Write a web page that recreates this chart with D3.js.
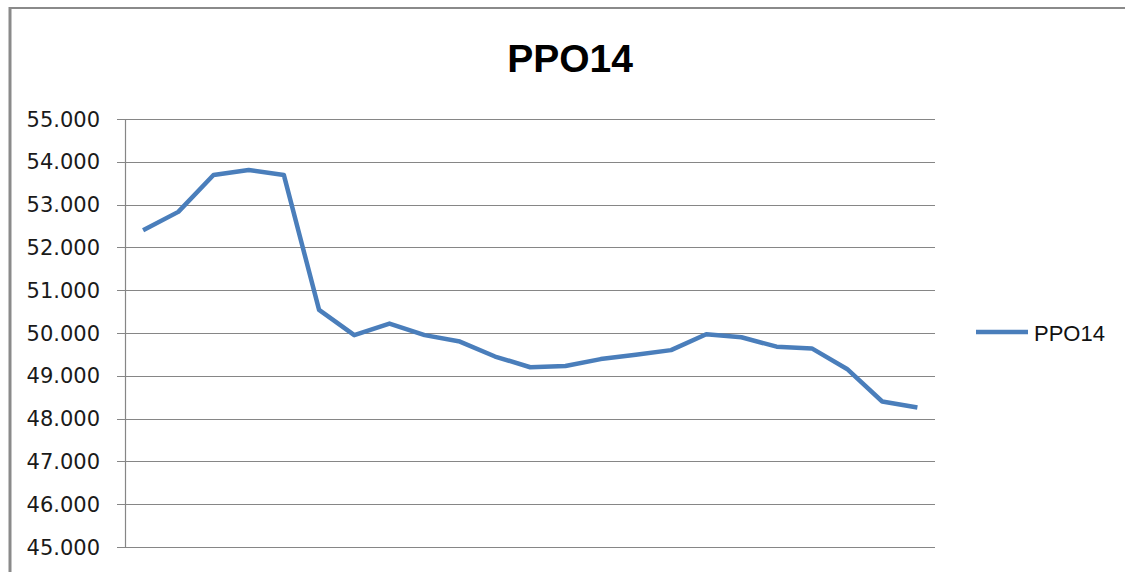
<!DOCTYPE html>
<html>
<head>
<meta charset="utf-8">
<script src="https://cdn.jsdelivr.net/npm/d3@7"></script>
<style>
  body { margin: 0; background: #fff; }
  svg { display: block; }
</style>
</head>
<body>
<svg width="1125" height="572"></svg>
<script>
// data
const seriesName = "PPO14";
const categories = d3.range(1, 24);
const values = [52.40, 52.83, 53.69, 53.81, 53.69, 50.54, 49.95, 50.22, 49.95, 49.80,
  49.45, 49.20, 49.23, 49.39, 49.49, 49.60, 49.97, 49.90, 49.68, 49.64, 49.16, 48.40, 48.26];
const yTicks = [45, 46, 47, 48, 49, 50, 51, 52, 53, 54, 55];

var svg = d3.select("svg"),
  width = 1125,
  height = 572;

// chart frame
svg.append("line").attr("x1", 10).attr("x2", width).attr("y1", 8).attr("y2", 8)
  .attr("stroke", "#8a8a8a").attr("stroke-width", 2);
svg.append("line").attr("x1", 10).attr("x2", 10).attr("y1", 7).attr("y2", height)
  .attr("stroke", "#8a8a8a").attr("stroke-width", 3);

// scales
var x = d3.scaleBand().domain(categories).range([125.5, 935]).padding(0);
var y = d3.scaleLinear().domain([45, 55]).range([547, 119]);

// gridlines
svg.append("g")
  .selectAll("line")
  .data(yTicks)
  .enter()
  .append("line")
    .attr("x1", 117).attr("x2", 935)
    .attr("y1", d => Math.round(y(d)) + 0.5)
    .attr("y2", d => Math.round(y(d)) + 0.5)
    .attr("stroke", "#868686")
    .attr("stroke-width", 1.2);

// y axis line
svg.append("line")
  .attr("x1", 125.5).attr("x2", 125.5)
  .attr("y1", y(55)).attr("y2", y(45) + 0.5)
  .attr("stroke", "#868686").attr("stroke-width", 1.2);

// tick labels
svg.append("g")
  .selectAll("text")
  .data(yTicks)
  .enter()
  .append("text")
    .attr("x", 100)
    .attr("y", d => y(d))
    .attr("dy", "0.36em")
    .attr("text-anchor", "end")
    .attr("font-family", "DejaVu Sans")
    .attr("font-size", 21)
    .attr("fill", "#1a1a1a")
    .text(d => d3.format(".3f")(d));

// the line
var line = d3.line()
  .x((d, i) => x(categories[i]) + x.bandwidth() / 2)
  .y(d => y(d));

svg.append("path")
  .datum(values)
  .attr("d", line)
  .attr("fill", "none")
  .attr("stroke", "#4a7ebb")
  .attr("stroke-width", 4.5)
  .attr("stroke-linejoin", "round");

// title
svg.append("text")
  .attr("x", 570)
  .attr("y", 72)
  .attr("text-anchor", "middle")
  .attr("font-family", "Liberation Sans")
  .attr("font-weight", "bold")
  .attr("font-size", 39)
  .attr("fill", "#000")
  .text(seriesName);

// legend
svg.append("line")
  .attr("x1", 976).attr("x2", 1028)
  .attr("y1", 332).attr("y2", 332)
  .attr("stroke", "#4a7ebb").attr("stroke-width", 4.5);
svg.append("text")
  .attr("x", 1034)
  .attr("y", 341)
  .attr("font-family", "Liberation Sans")
  .attr("font-size", 22)
  .attr("fill", "#111")
  .text(seriesName);
</script>
</body>
</html>
